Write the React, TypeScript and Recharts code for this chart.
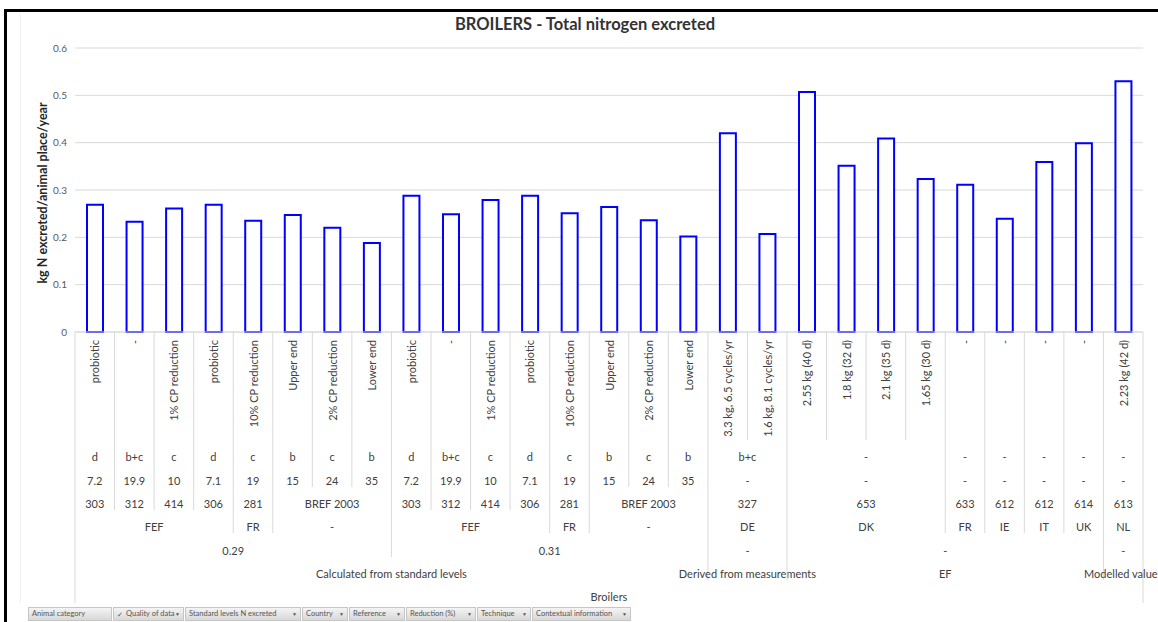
import React from 'react';
import { BarChart, Bar, XAxis, YAxis, CartesianGrid } from 'recharts';

// innermost axis level (rotated labels)
const contextInfo = [
  'probiotic', '-', '1% CP reduction', 'probiotic', '10% CP reduction', 'Upper end', '2% CP reduction', 'Lower end',
  'probiotic', '-', '1% CP reduction', 'probiotic', '10% CP reduction', 'Upper end', '2% CP reduction', 'Lower end',
  '3.3 kg, 6.5 cycles/yr', '1.6 kg,  8.1 cycles/yr',
  '2.55 kg (40 d)', '1.8 kg (32 d)', '2.1 kg (35 d)', '1.65 kg (30 d)', '-', '-', '-', '-',
  '2.23 kg (42 d)',
];

// kg N excreted/animal place/year
const nExcreted = [
  0.269, 0.233, 0.261, 0.269, 0.235, 0.247, 0.22, 0.188,
  0.288, 0.249, 0.279, 0.288, 0.251, 0.264, 0.236, 0.202,
  0.42, 0.207,
  0.507, 0.351, 0.409, 0.323, 0.311, 0.239, 0.359, 0.399,
  0.53,
];

// outer axis levels: [label, number of categories spanned]
const technique: [string, number][] = [
  ['d', 1], ['b+c', 1], ['c', 1], ['d', 1], ['c', 1], ['b', 1], ['c', 1], ['b', 1],
  ['d', 1], ['b+c', 1], ['c', 1], ['d', 1], ['c', 1], ['b', 1], ['c', 1], ['b', 1],
  ['b+c', 2], ['-', 4], ['-', 1], ['-', 1], ['-', 1], ['-', 1], ['-', 1],
];
const reduction: [string, number][] = [
  ['7.2', 1], ['19.9', 1], ['10', 1], ['7.1', 1], ['19', 1], ['15', 1], ['24', 1], ['35', 1],
  ['7.2', 1], ['19.9', 1], ['10', 1], ['7.1', 1], ['19', 1], ['15', 1], ['24', 1], ['35', 1],
  ['-', 2], ['-', 4], ['-', 1], ['-', 1], ['-', 1], ['-', 1], ['-', 1],
];
const reference: [string, number][] = [
  ['303', 1], ['312', 1], ['414', 1], ['306', 1], ['281', 1], ['BREF 2003', 3],
  ['303', 1], ['312', 1], ['414', 1], ['306', 1], ['281', 1], ['BREF 2003', 3],
  ['327', 2], ['653', 4], ['633', 1], ['612', 1], ['612', 1], ['614', 1], ['613', 1],
];
const country: [string, number][] = [
  ['FEF', 4], ['FR', 1], ['-', 3], ['FEF', 4], ['FR', 1], ['-', 3],
  ['DE', 2], ['DK', 4], ['FR', 1], ['IE', 1], ['IT', 1], ['UK', 1], ['NL', 1],
];
const standardLevel: [string, number][] = [['0.29', 8], ['0.31', 8], ['-', 2], ['-', 8], ['-', 1]];
const quality: [string, number][] = [
  ['Calculated from standard levels', 16], ['Derived from measurements', 2], ['EF', 8], ['Modelled values', 1],
];
const animal: [string, number][] = [['Broilers', 27]];

const yTicks = [0, 0.1, 0.2, 0.3, 0.4, 0.5, 0.6];

const pivotFields = [
  'Animal category', 'Quality of data', 'Standard levels N excreted', 'Country',
  'Reference', 'Reduction (%)', 'Technique', 'Contextual information',
];

const data = nExcreted.map((v, i) => ({ key: String(i), value: v }));

const FONT = 'Lato, "Open Sans", sans-serif';
const N = nExcreted.length;
const PLOT_LEFT = 75;
const PLOT_RIGHT = 1143;
const AXIS_Y = 332;
const STEP = (PLOT_RIGHT - PLOT_LEFT) / N;

const levels = [null, technique, reduction, reference, country, standardLevel, quality, animal];
const rowY = [0, 456.5, 480, 503, 526.5, 550, 573, 596.5];
const rowBottom = [440, 464, 487, 510, 533, 557, 580, 603];

const groupIds = (groups: [string, number][] | null) => {
  if (!groups) return contextInfo.map((_, i) => i);
  const ids: number[] = [];
  groups.forEach(([, span], g) => {
    for (let k = 0; k < span; k++) ids.push(g);
  });
  return ids;
};
const ids = levels.map(groupIds);

const groupStarts = levels.map((groups) => {
  const m = new Map<number, [string, number]>();
  if (!groups) return m;
  let pos = 0;
  groups.forEach((g) => {
    m.set(pos, g);
    pos += g[1];
  });
  return m;
});

// outermost level where categories a and b are in different groups
const boundaryLevel = (a: number, b: number) => {
  if (a < 0 || b >= N) return 7;
  let lvl = 0;
  for (let k = 1; k < ids.length; k++) if (ids[k][a] !== ids[k][b]) lvl = k;
  return lvl;
};

const MultiLevelTick = (props: any) => {
  const { x, payload } = props;
  const i = Number(payload.value);
  const lineColor = '#d9d9d9';
  const textProps = { fontFamily: FONT, fontSize: 11, fill: '#404040' };
  const right = i === N - 1;
  return (
    <g>
      <line x1={x - STEP / 2} x2={x - STEP / 2} y1={AXIS_Y} y2={rowBottom[boundaryLevel(i - 1, i)]} stroke={lineColor} />
      {right && (
        <line x1={x + STEP / 2} x2={x + STEP / 2} y1={AXIS_Y} y2={rowBottom[7]} stroke={lineColor} />
      )}
      <text
        transform={`translate(${x},${AXIS_Y + 8}) rotate(-90)`}
        textAnchor="end"
        dominantBaseline="central"
        {...textProps}
      >
        {contextInfo[i]}
      </text>
      {groupStarts.map((m, k) => {
        const g = m.get(i);
        if (!g) return null;
        return (
          <text
            key={k}
            x={x + ((g[1] - 1) * STEP) / 2}
            y={rowY[k]}
            textAnchor="middle"
            dominantBaseline="central"
            {...textProps}
          >
            {g[0]}
          </text>
        );
      })}
    </g>
  );
};

const buttonX = [28, 113, 185, 302, 349, 406, 477, 532, 632];

export default function App() {
  return (
    <div style={{ position: 'fixed', left: 0, top: 0, width: 1158, height: 622, background: '#fff', overflow: 'hidden' }}>
      <div style={{ position: 'absolute', left: 4, top: 9, width: 1170, height: 620, borderTop: '3px solid #000', borderLeft: '3px solid #000' }} />
      <div style={{ position: 'absolute', left: 20, top: 13, width: 1, height: 590, background: '#f2f2f2' }} />
      <BarChart
        width={1158}
        height={622}
        data={data}
        margin={{ top: 48, right: 1158 - PLOT_RIGHT, left: 0, bottom: 0 }}
        barCategoryGap={0}
        style={{ position: 'absolute', left: 0, top: 0 }}
      >
        <CartesianGrid vertical={false} stroke="#d9d9d9" />
        <XAxis
          dataKey="key"
          interval={0}
          height={622 - AXIS_Y}
          tickLine={false}
          axisLine={{ stroke: '#d9d9d9' }}
          tick={<MultiLevelTick />}
        />
        <YAxis
          width={PLOT_LEFT}
          domain={[0, 0.6]}
          ticks={yTicks}
          axisLine={false}
          tickLine={false}
          tick={{ fill: '#595959', fontSize: 10, fontFamily: FONT }}
        />
        <Bar dataKey="value" fill="#fff" stroke="#0000ff" strokeWidth={2} barSize={16} isAnimationActive={false} />
      </BarChart>
      <div
        style={{
          position: 'absolute', left: 0, width: 1158, top: 14, textAlign: 'center',
          fontFamily: FONT, fontWeight: 700, fontSize: 16.5, color: '#333', paddingLeft: 6,
        }}
      >
        BROILERS - Total nitrogen excreted
      </div>
      <svg style={{ position: 'absolute', left: 0, top: 0 }} width={80} height={340}>
        <text
          transform="translate(42,193) rotate(-90)"
          textAnchor="middle"
          dominantBaseline="central"
          fontFamily={FONT}
          fontWeight={700}
          fontSize={12.5}
          fill="#262626"
        >
          kg N excreted/animal place/year
        </text>
      </svg>
      {pivotFields.map((f, i) => (
        <div
          key={f}
          style={{
            position: 'absolute', left: buttonX[i], top: 607, width: buttonX[i + 1] - buttonX[i] - 1, height: 14,
            background: 'linear-gradient(#f4f4f4, #d8d8d8)', border: '1px solid #c6c6c6',
            fontFamily: FONT, fontSize: 7.5, color: '#555', lineHeight: '12px', boxSizing: 'border-box',
            paddingLeft: i === 1 ? 12 : 3, whiteSpace: 'nowrap', overflow: 'hidden',
          }}
        >
          {i === 1 && <span style={{ position: 'absolute', left: 3, fontSize: 7 }}>✓</span>}
          {f}
          {i > 0 && i < pivotFields.length && (
            <span style={{ position: 'absolute', right: 3, top: 0, fontSize: 5, lineHeight: '12px' }}>▼</span>
          )}
        </div>
      ))}
    </div>
  );
}
